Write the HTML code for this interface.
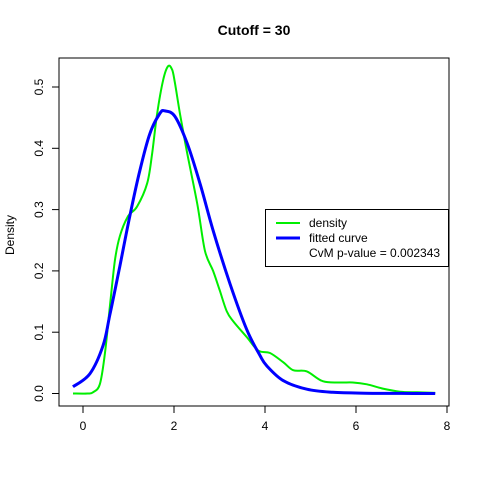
<!DOCTYPE html>
<html><head><meta charset="utf-8"><style>
body{margin:0;background:#fff}
svg{display:block;font-family:"Liberation Sans",sans-serif}
</style></head><body>
<svg width="480" height="480">
<text x="254" y="35" text-anchor="middle" font-weight="bold" font-size="14">Cutoff = 30</text>
<text transform="translate(14,235) rotate(-90)" text-anchor="middle" font-size="12">Density</text>
<rect x="59" y="58" width="390" height="348" fill="none" stroke="#000" stroke-width="1"/>
<g id="axes"></g>
<g id="series"></g>
<g>
<rect x="265.5" y="209.5" width="183" height="57" fill="#fff" stroke="#000"/>
<line x1="276" y1="223" x2="300" y2="223" stroke="#00ee00" stroke-width="2"/>
<text x="309" y="227" font-size="12">density</text>
<line x1="276" y1="238" x2="300" y2="238" stroke="#0000ff" stroke-width="3"/>
<text x="309" y="242" font-size="12">fitted curve</text>
<text x="309" y="257" font-size="12">CvM p-value = 0.002343</text>
</g>
</svg>
<script>
const xTicks=[0,2,4,6,8];
const yTicks=[0.0,0.1,0.2,0.3,0.4,0.5];
const yTickLabels=["0.0","0.1","0.2","0.3","0.4","0.5"];
const densX=[-0.22,0.1,0.22,0.37,0.48,0.59,0.70,0.81,0.99,1.19,1.41,1.52,1.63,1.76,1.87,1.96,2.02,2.13,2.29,2.51,2.68,2.86,3.01,3.16,3.30,3.60,3.85,4.11,4.40,4.62,4.92,5.27,5.65,5.93,6.24,6.59,6.97,7.34,7.74];
const densY=[0,0,0.002,0.015,0.064,0.141,0.216,0.257,0.289,0.305,0.343,0.392,0.457,0.511,0.534,0.528,0.507,0.457,0.392,0.310,0.233,0.200,0.167,0.134,0.118,0.092,0.070,0.066,0.051,0.038,0.036,0.020,0.018,0.018,0.015,0.008,0.003,0.002,0.001];
const fitX=[-0.22,0.15,0.44,0.59,0.81,1.03,1.25,1.47,1.69,1.80,2.02,2.29,2.57,2.86,3.23,3.60,3.89,4.04,4.40,4.92,5.49,6.2,7.0,7.74];
const fitY=[0.011,0.032,0.078,0.128,0.208,0.290,0.364,0.424,0.457,0.461,0.452,0.408,0.343,0.266,0.179,0.104,0.062,0.045,0.021,0.007,0.002,0.0005,0.0001,0];
const sx=v=>83+v*45.5;
const sy=v=>393.5-v*613;
const NS="http://www.w3.org/2000/svg";
const ax=document.getElementById('axes');
function mk(t,a,p){const e=document.createElementNS(NS,t);for(const k in a)e.setAttribute(k,a[k]);p.appendChild(e);return e;}
xTicks.forEach(t=>{
 const l=mk('line',{x1:sx(t),x2:sx(t),y1:406,y2:413,stroke:'#000'},ax);
 
 
 const tx=mk('text',{x:sx(t),y:430,'text-anchor':'middle','font-size':12},ax);tx.textContent=t;
 
 
});
mk('line',{x1:sx(0),x2:sx(8),y1:406,y2:406,stroke:'#000'},ax);
yTicks.forEach((t,i)=>{
 const l=mk('line',{x1:52,x2:59,y1:sy(t),y2:sy(t),stroke:'#000'},ax);
 
 
 const tx=mk('text',{transform:`translate(43,${sy(t)}) rotate(-90)`,'text-anchor':'middle','font-size':12},ax);tx.textContent=yTickLabels[i];
 
 
});
const s=document.getElementById('series');
function path(X,Y){
 const P=X.map((x,i)=>[sx(x),sy(Y[i])]);
 let d='M'+P[0][0].toFixed(1)+','+P[0][1].toFixed(1);
 for(let i=0;i<P.length-1;i++){
  const p0=P[Math.max(0,i-1)],p1=P[i],p2=P[i+1],p3=P[Math.min(P.length-1,i+2)];
  const c1=[p1[0]+(p2[0]-p0[0])/6,p1[1]+(p2[1]-p0[1])/6];
  const c2=[p2[0]-(p3[0]-p1[0])/6,p2[1]-(p3[1]-p1[1])/6];
  d+='C'+c1.map(v=>v.toFixed(1)).join(',')+' '+c2.map(v=>v.toFixed(1)).join(',')+' '+p2.map(v=>v.toFixed(1)).join(',');
 }
 return d;
}
const g=mk('path',{d:path(densX,densY),fill:'none',stroke:'#555','stroke-width':1},s);


const d=mk('path',{d:path(densX,densY),fill:'none',stroke:'#00ee00','stroke-width':2,'stroke-linejoin':'round'},s);


const f=mk('path',{d:path(fitX,fitY),fill:'none',stroke:'#0000ff','stroke-width':3,'stroke-linejoin':'round'},s);


</script>
</body></html>
